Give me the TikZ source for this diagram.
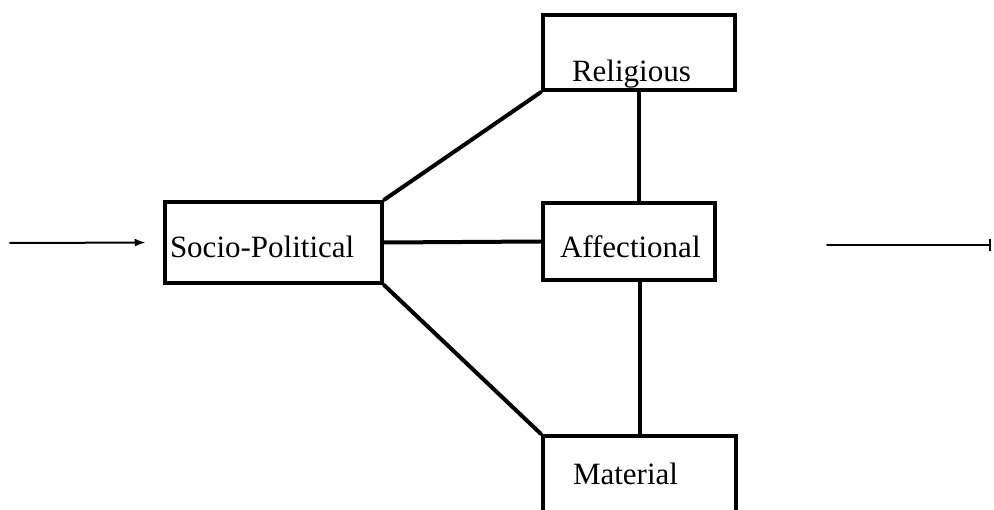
\documentclass[tikz,border=0pt]{standalone}
\usepackage{fontspec}
\setmainfont{Liberation Serif}
\usetikzlibrary{arrows.meta}

\begin{document}
\begin{tikzpicture}[x=1pt,y=-1pt,
                    line cap=round,
                    box/.style={rectangle, draw, line width=4.5pt, align=left,
                                inner ysep=2pt, text depth=0pt,
                                font=\fontsize{31}{36}\selectfont},
                    link/.style={line width=4pt},
                    flow/.style={line width=2pt}]
  \useasboundingbox (0,0) rectangle (994,510);
  \clip (0,0) rectangle (994,510);

  %Boxes%
  \node[box, inner xsep=5pt, text width=207pt, minimum height=81pt, text height=31pt]
    (soc) at (273.5,242.5) {Socio-Political};
  \node[box, inner xsep=29pt, text width=134pt, minimum height=75pt, text height=59pt]
    (rel) at (639,52.5) {Religious};
  \node[box, inner xsep=17pt, text width=138pt, minimum height=77pt, text height=33pt]
    (aff) at (629,241.5) {Affectional};
  \node[box, inner xsep=30pt, text width=133pt, minimum height=94pt, text height=21pt, text depth=17pt]
    (mat) at (639.5,483) {Material};

  \coordinate (in) at (10,243);
  \coordinate (outa) at (827,245);
  \coordinate (outb) at (991,245);

  %Links%
  \path[link]
    (soc.north east) edge (rel.south west)
    (soc.east) edge (aff.west)
    (soc.south east) edge (mat.north west)
    (rel.south) edge (rel.south |- aff.north)
    (mat.north |- aff.south) edge (mat.north);

  %In and out%
  \draw[flow, -{Latex[length=11pt,width=8pt]}, shorten >=17pt] (in) -- (soc.west);
  \draw[flow, -{Bar[width=12pt,line width=2.5pt]}] (outa) -- (outb);
\end{tikzpicture}
\end{document}
